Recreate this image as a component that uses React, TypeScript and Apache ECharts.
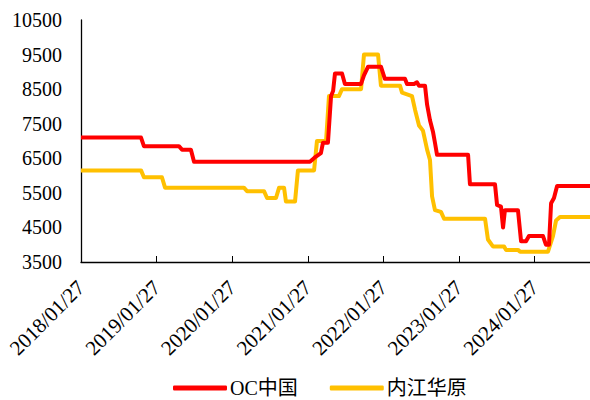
import React, { useEffect, useRef } from "react";
import * as echarts from "echarts";

// x values: days since 2018/01/27
const redDays = [0, 290, 304, 473, 488, 531, 546, 1106, 1135, 1159, 1169, 1193, 1208, 1218, 1227, 1261, 1275, 1353, 1367, 1387, 1449, 1468, 1565, 1575, 1609, 1623, 1633, 1662, 1672, 1686, 1701, 1710, 1720, 1870, 1879, 2000, 2010, 2029, 2039, 2048, 2111, 2126, 2150, 2164, 2232, 2246, 2261, 2271, 2285, 2300, 2459];
const redValues = [7100, 7100, 6850, 6850, 6750, 6750, 6400, 6400, 6550, 6650, 6950, 6950, 8300, 8450, 8950, 8950, 8650, 8650, 8900, 9150, 9150, 8800, 8800, 8650, 8650, 8700, 8600, 8600, 8050, 7600, 7250, 6950, 6600, 6600, 5750, 5750, 5150, 5100, 4500, 5000, 5000, 4100, 4100, 4250, 4250, 4000, 4000, 5200, 5350, 5700, 5700];

const yellowDays = [0, 290, 304, 391, 406, 787, 802, 884, 899, 942, 957, 981, 990, 1034, 1048, 1126, 1140, 1184, 1198, 1246, 1261, 1353, 1367, 1435, 1449, 1541, 1551, 1599, 1614, 1633, 1652, 1672, 1686, 1696, 1710, 1739, 1754, 1952, 1966, 1990, 2044, 2053, 2111, 2121, 2256, 2280, 2295, 2314, 2459];
const yellowValues = [6150, 6150, 5950, 5950, 5650, 5650, 5550, 5550, 5350, 5350, 5650, 5650, 5250, 5250, 6150, 6150, 7000, 7000, 8300, 8300, 8500, 8500, 9500, 9500, 8600, 8600, 8400, 8300, 7900, 7450, 7300, 6750, 6450, 5400, 5000, 4950, 4750, 4750, 4150, 3950, 3950, 3850, 3850, 3800, 3800, 4250, 4700, 4800, 4800];

const seriesNames = ["OC中国", "内江华原"];
const yTicks = [3500, 4500, 5500, 6500, 7500, 8500, 9500, 10500];
const xTickLabels = ["2018/01/27", "2019/01/27", "2020/01/27", "2021/01/27", "2022/01/27", "2023/01/27", "2024/01/27"];

const FONT = "Liberation Serif, Noto Sans CJK SC, serif";

export default function App() {
  const ref = useRef<HTMLDivElement>(null);
  useEffect(() => {
    const chart = echarts.init(ref.current!, null, { renderer: "svg" });
    const zip = (xs: number[], ys: number[]) => xs.map((x, i) => [x, ys[i]]);
    chart.setOption({
      animation: false,
      textStyle: { fontFamily: FONT },
      grid: { left: 81, right: 0, top: 20, bottom: 138, containLabel: false },
      legend: {
        top: 378,
        left: 173,
        padding: 0,
        itemWidth: 54,
        itemHeight: 5,
        itemGap: 32,
        icon: "roundRect",
        textStyle: { fontSize: 20, color: "#000", fontFamily: FONT, padding: [0, 0, 0, -2] },
        data: seriesNames,
      },
      xAxis: {
        type: "value",
        min: 0,
        max: 2459,
        interval: 365.25,
        splitLine: { show: false },
        axisLine: { lineStyle: { color: "#000", width: 1.3 } },
        axisTick: { show: true, inside: true, length: 6, lineStyle: { color: "#000" } },
        axisLabel: {
          rotate: 45,
          fontSize: 21,
          fontFamily: FONT,
          color: "#000",
          margin: 22,
          showMaxLabel: false,
          formatter: (v: number) => {
            const i = Math.round(v / 365.25);
            return Math.abs(v - i * 365.25) < 1 && xTickLabels[i] ? xTickLabels[i] : "";
          },
        },
      },
      yAxis: {
        type: "value",
        min: yTicks[0],
        max: yTicks[yTicks.length - 1],
        interval: 500,
        splitLine: { show: false },
        axisLine: { show: true, lineStyle: { color: "#000", width: 1.3 } },
        axisTick: { show: false },
        axisLabel: {
          fontSize: 20,
          fontFamily: FONT,
          color: "#000",
          margin: 19,
          formatter: (v: number) => (yTicks.includes(v) ? String(v) : ""),
        },
      },
      series: [
        {
          name: seriesNames[0],
          type: "line",
          data: zip(redDays, redValues),
          symbol: "none",
          lineStyle: { color: "#FF0000", width: 4, join: "round" },
          itemStyle: { color: "#FF0000" },
          z: 3,
        },
        {
          name: seriesNames[1],
          type: "line",
          data: zip(yellowDays, yellowValues),
          symbol: "none",
          lineStyle: { color: "#FFC000", width: 4, join: "round" },
          itemStyle: { color: "#FFC000" },
          z: 2,
        },
      ],
    });
    return () => chart.dispose();
  }, []);
  return <div ref={ref} style={{ width: 590, height: 400, position: "absolute", left: 0, top: 0 }} />;
}
